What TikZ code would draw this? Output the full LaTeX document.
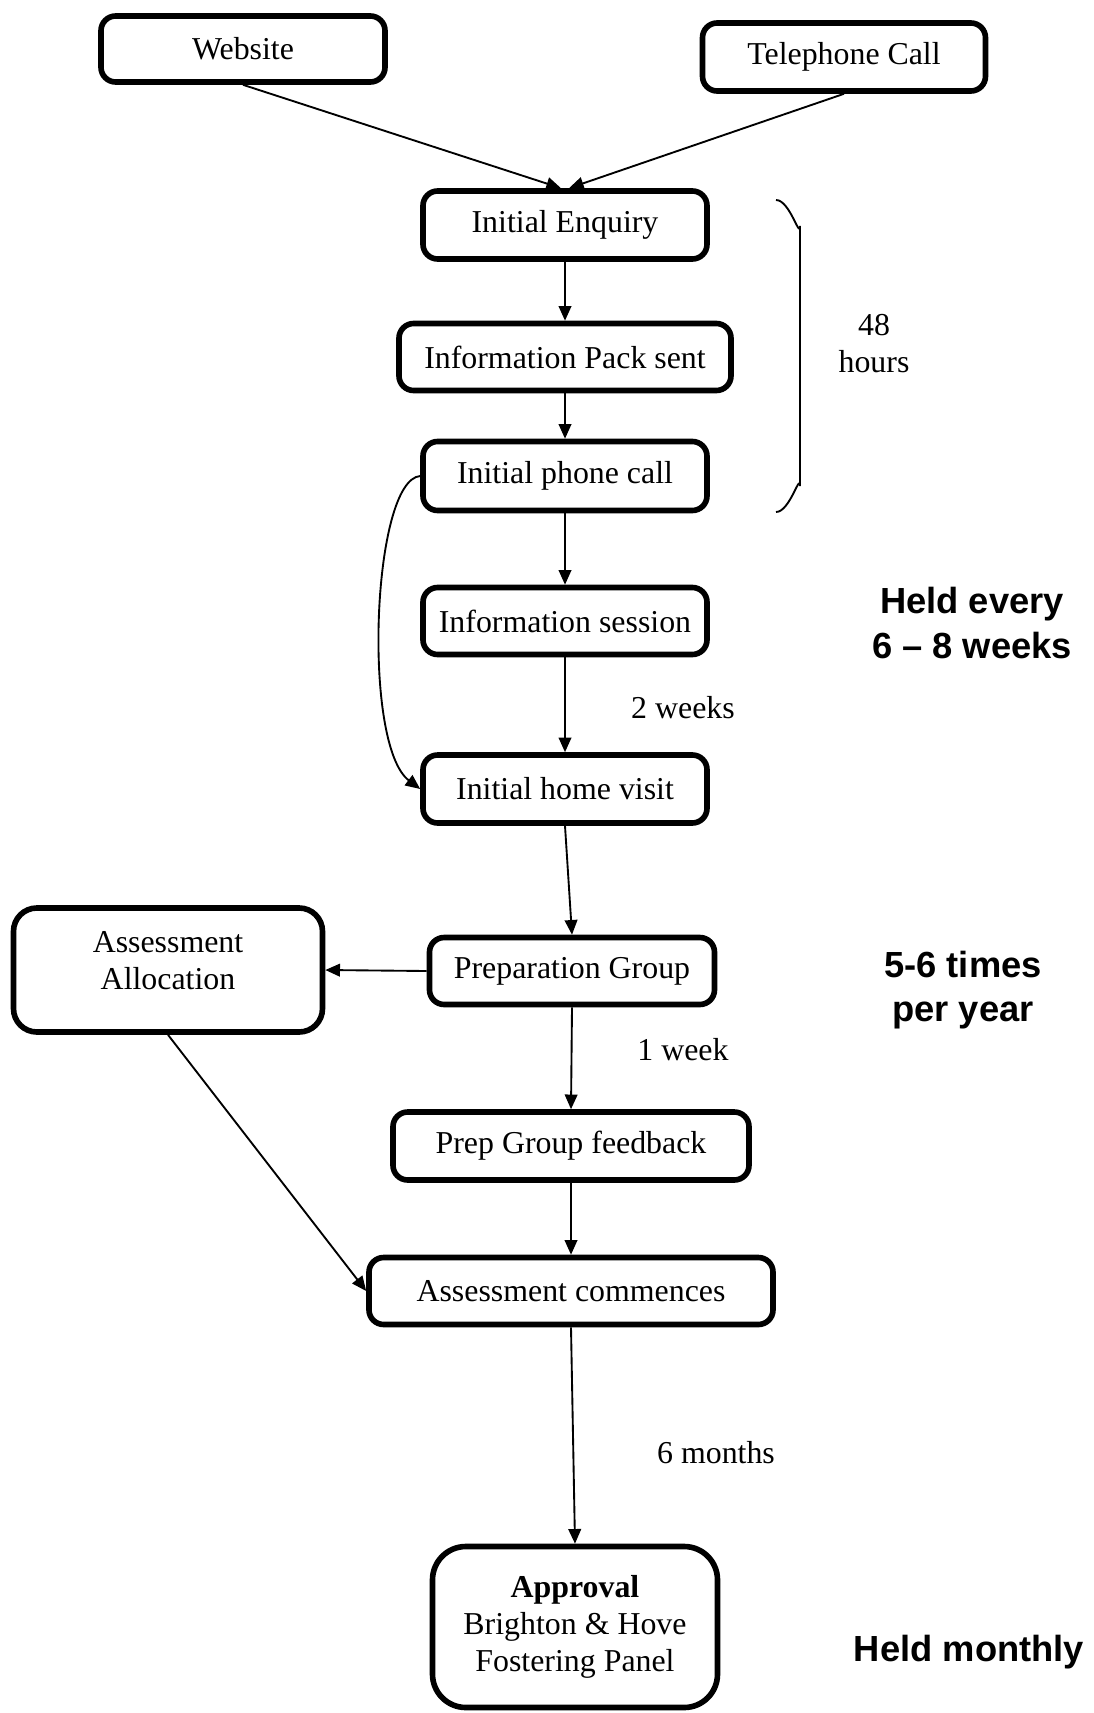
\documentclass[tikz,border=0pt]{standalone}
\usepackage{fontspec}
\setmainfont{Liberation Serif}
\newfontfamily\notefont{Liberation Sans}
\usetikzlibrary{arrows.meta}

\tikzset{
    box/.style 2 args={draw, line width=2.4pt, rounded corners=2.2mm, align=center,
        minimum width=#1*0.015cm, minimum height=#2*0.015cm},
    flow/.style={-{Triangle[length=2.2mm, width=1.9mm]}, line width=0.8pt},
    note/.style={align=center, font=\notefont\bfseries\fontsize{15.5}{19}\selectfont}
}

\begin{document}
\begin{tikzpicture}[x=0.015cm, y=-0.015cm,
    every node/.style={inner sep=0pt, font=\fontsize{13.6}{15.8}\selectfont}]
                \useasboundingbox (0,0) rectangle (1093,1713);
                % boxes
                \node [box={284}{66}] (web) at (243,49) {Website};
                \node [box={283}{68}] (tel) at (844,57) {Telephone Call};
                \node [box={284}{68}] (enq) at (565,225) {Initial Enquiry};
                \node [box={332}{67}] (pack) at (565,357) {Information Pack sent};
                \node [box={284}{69}] (phone) at (565,476) {Initial phone call};
                \node [box={284}{67}] (sess) at (565,621) {Information session};
                \node [box={284}{68}] (home) at (565,789) {Initial home visit};
                \node [box={285}{67}] (prep) at (572,971) {Preparation Group};
                \node [box={309}{124}, rounded corners=3.5mm] (alloc) at (168,970) {Assessment\\Allocation\\[-8pt]};
                \node [box={356}{68}] (feed) at (571,1146) {Prep Group feedback};
                \node [box={404}{67}] (comm) at (571,1291) {Assessment commences};
                \node [box={285}{161}, rounded corners=5mm] (appr) at (575,1627) {\textbf{Approval}\\Brighton \& Hove\\Fostering Panel};
                % side notes
                \node [align=center] (hrs) at (874,344) {48\\hours};
                \node [note] (sessnote) at (972,623) {Held every\\6 – 8 weeks};
                \node (wk2) at (683,708) {2 weeks};
                \node [note] (prepnote) at (963,990) {5-6 times\\per year};
                \node (wk1) at (683,1050) {1 week};
                \node (mon6) at (716,1453) {6 months};
                \node [note] (apprnote) at (969,1652) {Held monthly};
                % connectors
                \draw [flow] (web.south) -- ([xshift=-0.6mm]enq.north);
                \draw [flow] (tel.south) -- ([xshift=0.6mm]enq.north);
                \foreach \a/\b in {enq/pack, pack/phone, phone/sess, sess/home, home/prep, prep/feed, feed/comm, comm/appr} {
                    \draw [flow] (\a.south) -- (\b.north);
                }
                \draw [flow] (prep.west) -- (alloc.east);
                \draw [flow] (alloc.south) -- (comm.west);
                \draw [flow] (phone.west) .. controls (372,480) and (362,745) .. (home.west);
                % bracket for the first steps
                \draw [line width=0.8pt] (776,200) to[out=0, in=-90] (800,226) -- (800,486) to[out=90, in=0] (776,512);
            \end{tikzpicture}
\end{document}
